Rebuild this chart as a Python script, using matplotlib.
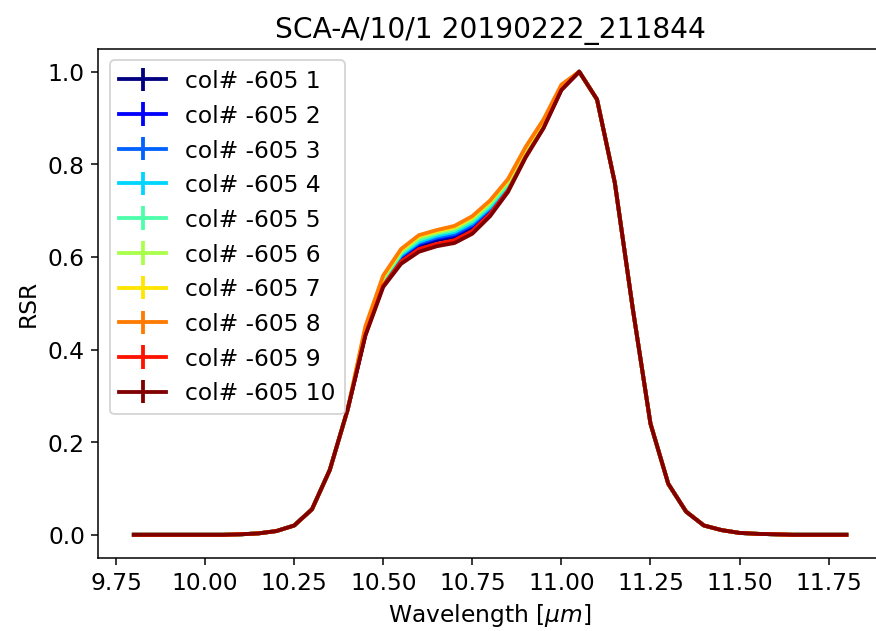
import numpy as np
import matplotlib
matplotlib.use("Agg")
import matplotlib.pyplot as plt

# Wavelength grid pieces (um)
wl_left = [9.80, 9.85, 9.90, 9.95, 10.00, 10.05, 10.10, 10.15, 10.20, 10.25, 10.30, 10.35, 10.40]
wl_mid = [10.45, 10.50, 10.55, 10.60, 10.65, 10.70, 10.75, 10.80, 10.85, 10.90, 10.95, 11.00]
wl_right = [11.05, 11.10, 11.15, 11.20, 11.25, 11.30, 11.35, 11.40, 11.45, 11.50,
            11.55, 11.60, 11.65, 11.70, 11.75, 11.80]

# wings are the same for all columns
rsr_left = [0, 0, 0, 0, 0, 0, 0.001, 0.003, 0.008, 0.02, 0.055, 0.14, 0.27]
rsr_right = [1.0, 0.94, 0.76, 0.49, 0.24, 0.11, 0.05, 0.02, 0.01, 0.004,
             0.002, 0.001, 0, 0, 0, 0]

# middle part differs per column
rsr_mid = [
    [0.433, 0.543, 0.597, 0.624, 0.636, 0.643, 0.664, 0.700, 0.748, 0.820, 0.881, 0.962],
    [0.435, 0.545, 0.600, 0.628, 0.640, 0.647, 0.668, 0.703, 0.750, 0.821, 0.882, 0.962],
    [0.436, 0.547, 0.602, 0.630, 0.642, 0.650, 0.670, 0.705, 0.752, 0.823, 0.884, 0.963],
    [0.438, 0.550, 0.605, 0.633, 0.646, 0.654, 0.674, 0.708, 0.755, 0.825, 0.886, 0.964],
    [0.440, 0.552, 0.608, 0.637, 0.650, 0.658, 0.678, 0.712, 0.758, 0.828, 0.888, 0.965],
    [0.445, 0.555, 0.612, 0.642, 0.653, 0.662, 0.683, 0.717, 0.763, 0.833, 0.892, 0.968],
    [0.448, 0.558, 0.615, 0.645, 0.656, 0.665, 0.686, 0.720, 0.766, 0.836, 0.895, 0.970],
    [0.450, 0.560, 0.617, 0.647, 0.658, 0.667, 0.688, 0.722, 0.768, 0.838, 0.897, 0.972],
    [0.432, 0.538, 0.590, 0.617, 0.628, 0.636, 0.656, 0.693, 0.743, 0.817, 0.879, 0.961],
    [0.430, 0.535, 0.585, 0.611, 0.623, 0.630, 0.650, 0.688, 0.740, 0.815, 0.878, 0.960],
]
labels = ["col# -605 %d" % i for i in range(1, 11)]

wl = np.array(wl_left + wl_mid + wl_right)
colors = plt.cm.jet(np.linspace(0, 1, len(labels)))

plt.rcParams["font.size"] = 12.3
fig = plt.figure(figsize=(6.4, 4.61), dpi=137)
for i, lab in enumerate(labels):
    rsr = np.array(rsr_left + rsr_mid[i] + rsr_right)
    plt.errorbar(wl, rsr, yerr=np.zeros_like(rsr), color=colors[i], lw=2, label=lab)

plt.xlabel(r"Wavelength [$\mu m$]")
plt.ylabel("RSR")
plt.title("SCA-A/10/1 20190222_211844")
plt.legend(loc="upper left")
# the original picture is cut off on the right, so the axes run past the edge
plt.subplots_adjust(left=0.112, right=1.006, top=0.9223, bottom=0.1157)
plt.savefig("out.png")
